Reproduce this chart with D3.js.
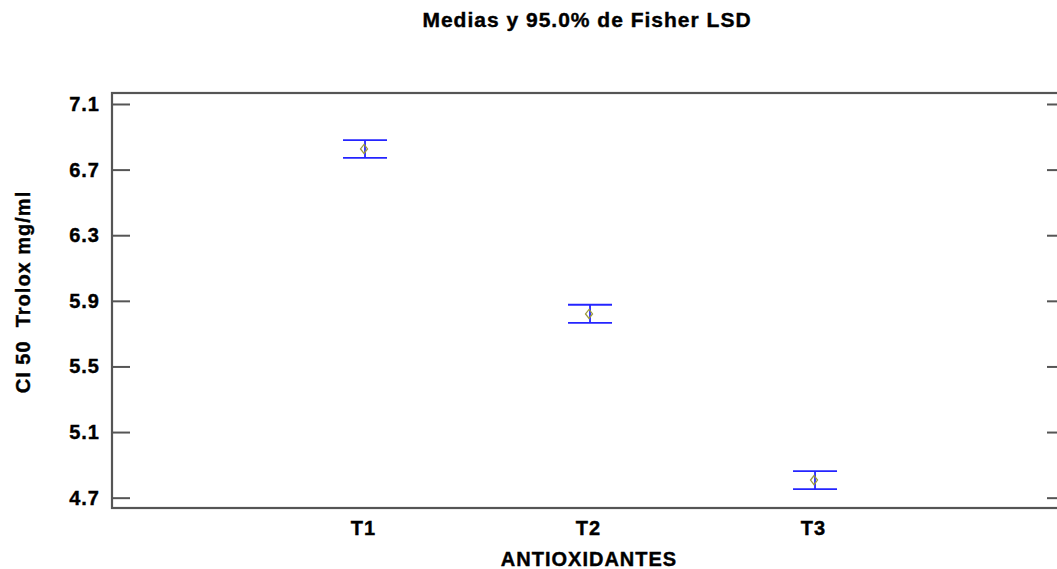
<!DOCTYPE html>
<html>
<head>
<meta charset="utf-8">
<script src="https://cdn.jsdelivr.net/npm/d3@7"></script>
<style>
  body { margin: 0; background: #fff; }
  svg { display: block; }
  text { font-family: "Liberation Sans", Arial, sans-serif; font-weight: bold; fill: #000; stroke: #000; stroke-width: 0.4px; }
  .axis path { display: none; }
  .axis line { stroke: #555; stroke-width: 2; }
  .axis text { font-size: 20px; letter-spacing: 1px; }
</style>
</head>
<body>
<script>
// datos
var categorias = ["T1", "T2", "T3"];
var medias     = [6.826, 5.820, 4.807];
var limiteInf  = [6.771, 5.765, 4.752];
var limiteSup  = [6.880, 5.876, 4.862];
var ticksY     = [4.7, 5.1, 5.5, 5.9, 6.3, 6.7, 7.1];

var titulo   = "Medias y 95.0% de Fisher LSD";
var etiquetaX = "ANTIOXIDANTES";
var etiquetaY = "CI 50\u00a0 Trolox mg/ml";

var svgW = 1057;
var svgH = 569;

var ejeIzq = 112;
var ejeDer = 1065;
var ejeSup = 93;
var ejeInf = 508;

var capaAncho = 44;
var azul = "#2424ff";

function graficar(){
    var svg = d3.select("body")
                .append("svg")
                .attr("width", svgW)
                .attr("height", svgH);

    var xScale = d3.scaleLinear()
                   .domain([-0.1245, 4.111])
                   .range([ejeIzq, ejeDer]);

    var yScale = d3.scaleLinear()
                   .domain([4.637, 7.167])
                   .range([ejeInf, ejeSup]);

    // ejes
    var yAxis = d3.axisLeft(yScale)
                  .tickValues(ticksY)
                  .tickFormat(d3.format(".1f"))
                  .tickSizeInner(-18)
                  .tickSizeOuter(0)
                  .tickPadding(12);

    svg.append("g")
       .attr("class", "axis")
       .attr("transform", "translate(" + ejeIzq + ",0)")
       .call(yAxis);

    var yAxisDer = d3.axisRight(yScale)
                     .tickValues(ticksY)
                     .tickFormat("")
                     .tickSizeInner(-18)
                     .tickSizeOuter(0);

    svg.append("g")
       .attr("class", "axis")
       .attr("transform", "translate(" + ejeDer + ",0)")
       .call(yAxisDer);

    var xAxis = d3.axisBottom(xScale)
                  .tickValues([1, 2, 3])
                  .tickFormat(function(d){ return categorias[d - 1]; })
                  .tickSize(0)
                  .tickPadding(13);

    svg.append("g")
       .attr("class", "axis")
       .attr("transform", "translate(0," + ejeInf + ")")
       .call(xAxis)
       .selectAll("text")
       .attr("dx", -2);

    // marco
    svg.append("rect")
       .attr("x", ejeIzq)
       .attr("y", ejeSup)
       .attr("width", ejeDer - ejeIzq)
       .attr("height", ejeInf - ejeSup)
       .attr("fill", "none")
       .attr("stroke", "#555")
       .attr("stroke-width", 2.2);

    // barras de error
    var grupo = svg.selectAll(".barra")
                   .data(categorias)
                   .enter()
                   .append("g")
                   .attr("class", "barra");

    grupo.append("line")
         .attr("x1", function(d, i){ return xScale(i + 1); })
         .attr("x2", function(d, i){ return xScale(i + 1); })
         .attr("y1", function(d, i){ return yScale(limiteSup[i]); })
         .attr("y2", function(d, i){ return yScale(limiteInf[i]); })
         .attr("stroke", azul)
         .attr("stroke-width", 1.8);

    grupo.append("line")
         .attr("x1", function(d, i){ return xScale(i + 1) - capaAncho / 2; })
         .attr("x2", function(d, i){ return xScale(i + 1) + capaAncho / 2; })
         .attr("y1", function(d, i){ return yScale(limiteSup[i]); })
         .attr("y2", function(d, i){ return yScale(limiteSup[i]); })
         .attr("stroke", azul)
         .attr("stroke-width", 1.8);

    grupo.append("line")
         .attr("x1", function(d, i){ return xScale(i + 1) - capaAncho / 2; })
         .attr("x2", function(d, i){ return xScale(i + 1) + capaAncho / 2; })
         .attr("y1", function(d, i){ return yScale(limiteInf[i]); })
         .attr("y2", function(d, i){ return yScale(limiteInf[i]); })
         .attr("stroke", azul)
         .attr("stroke-width", 1.8);

    // marcador de la media (rombo)
    grupo.append("path")
         .attr("d", function(d, i){
             var cx = xScale(i + 1) - 1, cy = yScale(medias[i]);
             return "M" + cx + "," + (cy - 4.5) + "L" + (cx + 3.5) + "," + cy +
                    "L" + cx + "," + (cy + 4.5) + "L" + (cx - 3.5) + "," + cy + "Z";
         })
         .attr("fill", "none")
         .attr("stroke", "#9c9a3c")
         .attr("stroke-width", 1.3);

    // textos
    svg.append("text")
       .attr("x", 587)
       .attr("y", 27)
       .attr("text-anchor", "middle")
       .style("font-size", "21px")
       .style("letter-spacing", "1px")
       .text(titulo);

    svg.append("text")
       .attr("x", 589)
       .attr("y", 566)
       .attr("text-anchor", "middle")
       .style("font-size", "20px")
       .style("letter-spacing", "1px")
       .text(etiquetaX);

    svg.append("text")
       .attr("transform", "translate(30,292) rotate(-90)")
       .attr("text-anchor", "middle")
       .style("font-size", "20px")
       .style("letter-spacing", "1px")
       .text(etiquetaY);
}

graficar();
</script>
</body>
</html>
